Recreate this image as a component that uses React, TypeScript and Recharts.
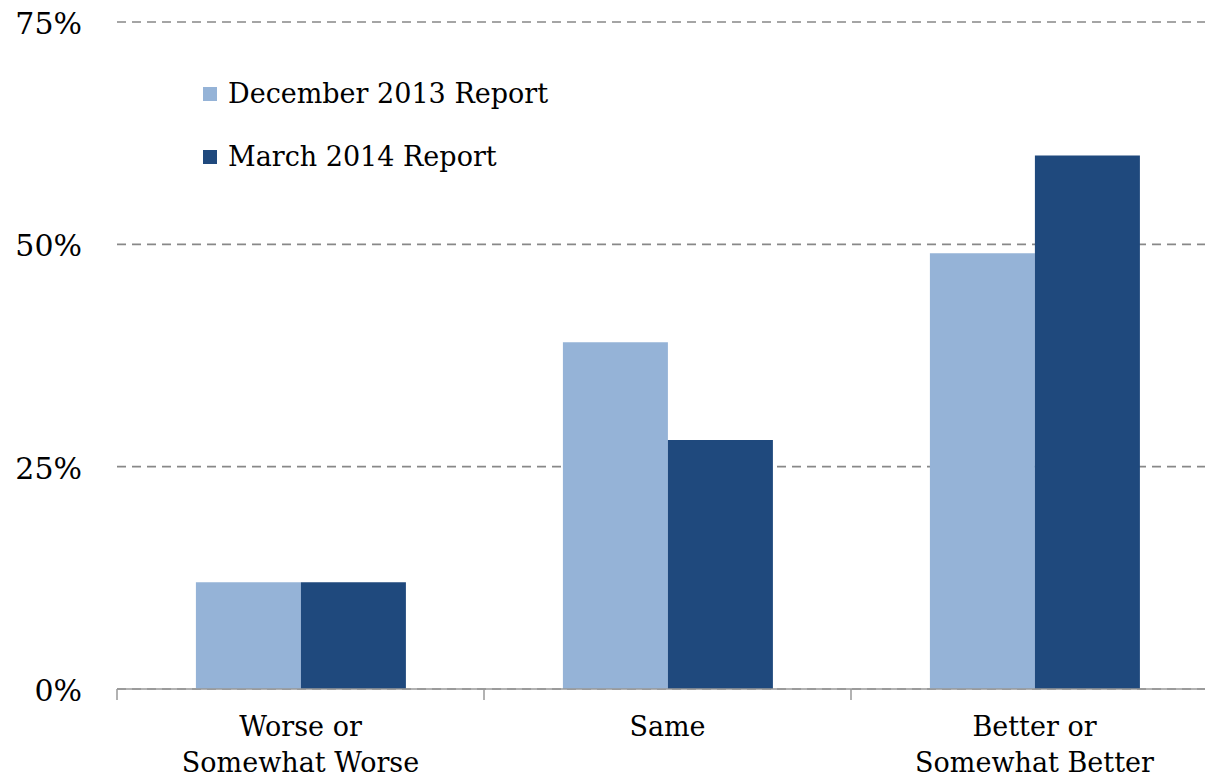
import React from "react";
import { BarChart, Bar, XAxis, YAxis, CartesianGrid, usePlotArea } from "recharts";

const categories = ["Worse or\nSomewhat Worse", "Same", "Better or\nSomewhat Better"];
const december2013 = [12, 39, 49];
const march2014 = [12, 28, 60];
const yTicks = [0, 25, 50, 75];
const seriesNames = ["December 2013 Report", "March 2014 Report"];
const seriesColors = ["#95B3D7", "#1F497D"];

const data = categories.map((c, i) => ({ cat: c, dec: december2013[i], mar: march2014[i] }));

const FONT = "'DejaVu Serif', Georgia, serif";
const FS = 27;

const XTick = (props: any) => {
  const { x, y, payload } = props;
  const lines = String(payload.value).split("\n");
  return (
    <text x={x} y={y} textAnchor="middle" fontFamily={FONT} fontSize={FS} fill="#000">
      {lines.map((l, i) => (
        <tspan key={i} x={x} dy={i === 0 ? 47 : 36}>
          {l}
        </tspan>
      ))}
    </text>
  );
};

const YTick = (props: any) => {
  const { x, y, payload } = props;
  return (
    <text x={x} y={y} dy={12} textAnchor="end" fontFamily={FONT} fontSize={30} fill="#000">
      {payload.value}%
    </text>
  );
};

const BoundaryTicks = () => {
  const area: any = usePlotArea ? usePlotArea() : null;
  if (!area) return null;
  const n = categories.length;
  const bottom = area.y + area.height;
  return (
    <g>
      {Array.from({ length: n + 1 }, (_, i) => {
        const x = area.x + (area.width * i) / n;
        return <line key={i} x1={x} x2={x} y1={bottom} y2={bottom + 11} stroke="#999" strokeWidth={1.5} />;
      })}
    </g>
  );
};

export default function App() {
  return (
    <div style={{ position: "absolute", left: 0, top: 0, width: 1205, height: 778, overflow: "hidden", background: "#fff" }}>
      <BarChart
        width={1220}
        height={778}
        data={data}
        margin={{ top: 22, right: 2, bottom: 0, left: 0 }}
        barCategoryGap="21.5%"
        barGap={0}
      >
        <CartesianGrid vertical={false} stroke="#888" strokeDasharray="9 6" strokeWidth={1.6} />
        <XAxis
          dataKey="cat"
          height={89}
          axisLine={{ stroke: "#999", strokeWidth: 1.5 }}
          tickLine={false}
          tickSize={0}
          tickMargin={0}
          tick={<XTick />}
          interval={0}
        />
        <YAxis
          width={117}
          domain={[0, 75]}
          ticks={yTicks}
          axisLine={false}
          tickLine={false}
          tickSize={0}
          tickMargin={35}
          tick={<YTick />}
          interval={0}
        />
        <Bar dataKey="dec" name={seriesNames[0]} fill={seriesColors[0]} isAnimationActive={false} />
        <Bar dataKey="mar" name={seriesNames[1]} fill={seriesColors[1]} isAnimationActive={false} />
        <BoundaryTicks />
      </BarChart>
      {seriesNames.map((n, i) => (
        <div
          key={n}
          style={{
            position: "absolute",
            left: 203,
            top: 78 + i * 63,
            display: "flex",
            alignItems: "center",
            fontFamily: FONT,
            fontSize: FS,
            color: "#000",
            whiteSpace: "nowrap",
          }}
        >
          <span style={{ display: "inline-block", width: 14, height: 14, background: seriesColors[i], marginRight: 11 }} />
          {n}
        </div>
      ))}
    </div>
  );
}
